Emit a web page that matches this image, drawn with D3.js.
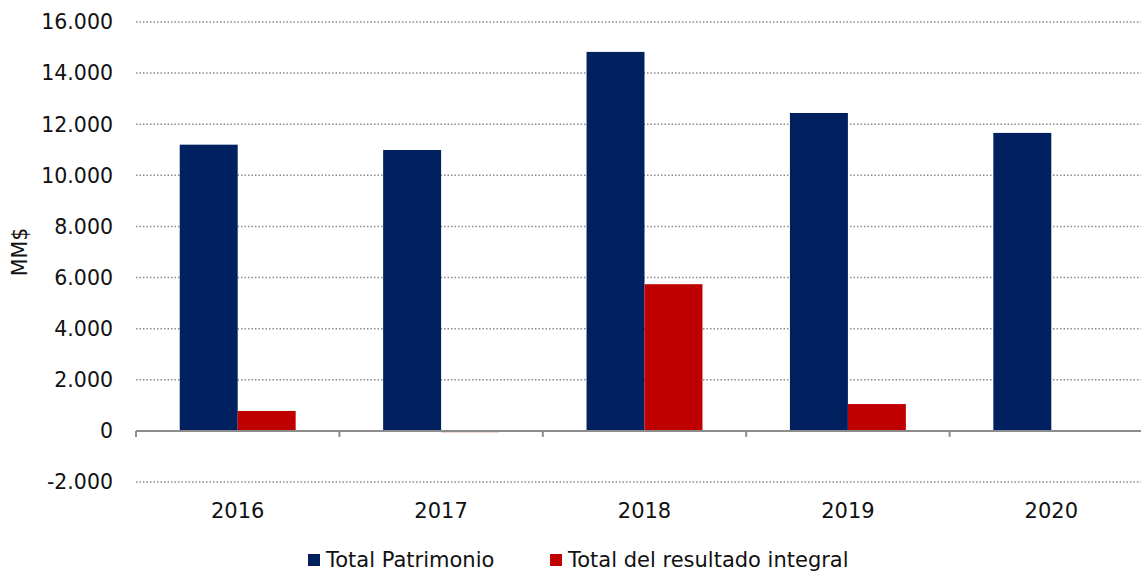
<!DOCTYPE html>
<html lang="es">
  <head>
    <meta charset="UTF-8" />
    <title>Patrimonio</title>
    <style>
      body { margin: 0; background: #fff; }
      svg { display: block; font-family: "DejaVu Sans", Verdana, sans-serif; }
      .grid line { stroke: #8c8c8c; stroke-width: 1.5px; stroke-dasharray: 1.5 2; }
    </style>
  </head>
  <body>
    <svg></svg>
    <script src="https://cdnjs.cloudflare.com/ajax/libs/d3/7.8.5/d3.min.js"></script>
    <script>
      const years = ["2016", "2017", "2018", "2019", "2020"];
      const series = ["Total Patrimonio", "Total del resultado integral"];
      const patrimonio = [11200, 10990, 14830, 12440, 11660];
      const resultado = [780, -50, 5740, 1050, 0];
      const yTicks = [-2000, 0, 2000, 4000, 6000, 8000, 10000, 12000, 14000, 16000];
      const colors = ["#002060", "#C00000"];

      const width = 1141, height = 572;
      const svg = d3.select("svg").attr("width", width).attr("height", height);

      const y = d3.scaleLinear().domain([-2000, 16000]).range([482, 22]);
      const x0 = d3.scaleBand().domain(years).range([136, 1153])
        .paddingInner(0.43).paddingOuter(0.215);
      const x1 = d3.scaleBand().domain(series).range([0, x0.bandwidth()]);

      // thousands with dots, plain hyphen for negatives
      const fmt = d => d3.format(",")(d).replace(/,/g, ".").replace("\u2212", "-");

      // gridlines
      svg.append("g").attr("class", "grid")
        .selectAll("line")
        .data(yTicks.filter(d => d !== 0))
        .join("line")
        .attr("x1", 136).attr("x2", width)
        .attr("y1", d => y(d)).attr("y2", d => y(d));

      // y labels
      svg.append("g").selectAll("text")
        .data(yTicks)
        .join("text")
        .attr("x", 113).attr("y", d => y(d))
        .attr("dy", "0.36em")
        .attr("text-anchor", "end")
        .attr("font-size", 20.5)
        .attr("fill", "#111")
        .text(fmt);

      svg.append("text")
        .attr("transform", "translate(27," + y(7000) + ") rotate(-90)")
        .attr("text-anchor", "middle")
        .attr("font-size", 20.5)
        .attr("fill", "#111")
        .text("MM$");

      // bars
      const rows = years.map((yr, i) => ({ year: yr, vals: [patrimonio[i], resultado[i]] }));
      const grp = svg.append("g").selectAll("g")
        .data(rows)
        .join("g")
        .attr("transform", d => "translate(" + x0(d.year) + ",0)");
      grp.selectAll("rect")
        .data(d => d.vals.map((v, k) => ({ key: series[k], v: v, k: k })))
        .join("rect")
        .attr("x", d => x1(d.key))
        .attr("width", x1.bandwidth())
        .attr("y", d => y(Math.max(0, d.v)))
        .attr("height", d => Math.abs(y(d.v) - y(0)))
        .attr("fill", d => colors[d.k]);

      // zero axis with category ticks
      const axis = svg.append("g");
      axis.append("line")
        .attr("x1", 136).attr("x2", width)
        .attr("y1", y(0)).attr("y2", y(0))
        .attr("stroke", "#8c8c8c").attr("stroke-width", 2);
      const bounds = years.map(d => x0(d) + x0.bandwidth() / 2 - x0.step() / 2);
      axis.selectAll("line.tk")
        .data(bounds)
        .join("line")
        .attr("class", "tk")
        .attr("x1", d => d).attr("x2", d => d)
        .attr("y1", y(0)).attr("y2", y(0) + 6)
        .attr("stroke", "#8c8c8c").attr("stroke-width", 2);

      // category labels
      svg.append("g").selectAll("text")
        .data(years)
        .join("text")
        .attr("x", d => x0(d) + x0.bandwidth() / 2)
        .attr("y", 518)
        .attr("text-anchor", "middle")
        .attr("font-size", 21)
        .attr("fill", "#111")
        .text(d => d);

      // legend
      const legX = [308, 550];
      const leg = svg.append("g").selectAll("g")
        .data(series)
        .join("g")
        .attr("transform", (d, i) => "translate(" + legX[i] + ",554)");
      leg.append("rect").attr("width", 12).attr("height", 12)
        .attr("fill", (d, i) => colors[i]);
      leg.append("text")
        .attr("x", 18).attr("y", 13)
        .attr("font-size", 21)
        .attr("fill", "#111")
        .text(d => d);
    </script>
  </body>
</html>
